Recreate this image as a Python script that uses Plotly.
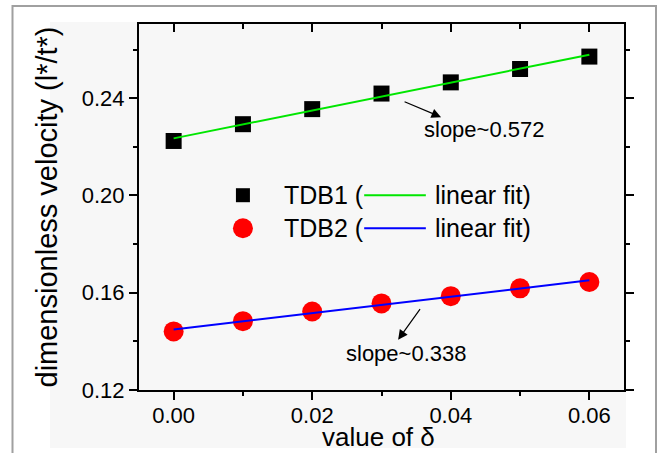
import numpy as np
import plotly.graph_objects as go

# ---- data ----
delta = [0.00, 0.01, 0.02, 0.03, 0.04, 0.05, 0.06]
tdb1 = [0.2224, 0.2293, 0.2355, 0.2419, 0.2465, 0.2520, 0.2571]
tdb2 = [0.1441, 0.1483, 0.1523, 0.1556, 0.1586, 0.1618, 0.1644]
x_ticks = [0.00, 0.02, 0.04, 0.06]
y_ticks = [0.12, 0.16, 0.20, 0.24]
x_title = "value of δ"
y_title = "dimensionless velocity (l*/t*)"
slope1_label = "slope~0.572"
slope2_label = "slope~0.338"

FONT = "Liberation Sans, Arial, sans-serif"

# linear fits from data
p1 = np.polyfit(delta, tdb1, 1)
p2 = np.polyfit(delta, tdb2, 1)
xf = np.array([delta[0], delta[-1]])
fit1 = np.polyval(p1, xf)
fit2 = np.polyval(p2, xf)

W, H = 663, 453
ML, MR, MT, MB = 139, 39, 24, 63
PW, PH = W - ML - MR, H - MT - MB


def px(x):
    return (x - ML) / PW


def py(y):
    return (H - MB - y) / PH


fig = go.Figure()
fig.add_trace(go.Scatter(x=delta, y=tdb1, mode="markers",
                         marker=dict(symbol="square", size=16, color="black"),
                         hoverinfo="skip", showlegend=False))
fig.add_trace(go.Scatter(x=xf, y=fit1, mode="lines",
                         line=dict(color="#00e600", width=2),
                         hoverinfo="skip", showlegend=False))
fig.add_trace(go.Scatter(x=delta, y=tdb2, mode="markers",
                         marker=dict(symbol="circle", size=20, color="#ff0000"),
                         hoverinfo="skip", showlegend=False))
fig.add_trace(go.Scatter(x=xf, y=fit2, mode="lines",
                         line=dict(color="#0000ff", width=2),
                         hoverinfo="skip", showlegend=False))
# dummy trace for top axis
fig.add_trace(go.Scatter(x=[delta[0]], y=[tdb1[0]], xaxis="x2", mode="markers",
                         marker=dict(opacity=0), hoverinfo="skip", showlegend=False))

xr = [-0.005, 0.065]
yr = [0.12, 0.2705]

axis_common = dict(showgrid=False, zeroline=False, showline=True,
                   linecolor="black", linewidth=2, tickcolor="black",
                   tickwidth=2, ticklen=8,
                   tickfont=dict(family=FONT, size=22, color="black"))

fig.update_layout(
    width=W, height=H,
    margin=dict(l=ML, r=MR, t=MT, b=MB, autoexpand=False),
    paper_bgcolor="white",
    plot_bgcolor="#f7f7f7",
    showlegend=False,
    xaxis=dict(range=xr, tickvals=x_ticks, ticktext=[f"{v:.2f}" for v in x_ticks],
               ticks="outside", mirror=False, ticklabelstandoff=-3,
               minor=dict(dtick=0.01, tick0=0, ticks="outside", ticklen=4,
                          tickwidth=2, tickcolor="black"),
               **axis_common),
    xaxis2=dict(range=xr, overlaying="x", side="top", anchor="y", matches="x",
                tickvals=x_ticks, ticks="inside", showticklabels=False,
                minor=dict(dtick=0.01, tick0=0, ticks="inside", ticklen=5,
                           tickwidth=2, tickcolor="black"),
                **axis_common),
    yaxis=dict(range=yr, tickvals=y_ticks, ticktext=[f"{v:.2f}" for v in y_ticks],
               ticks="outside", mirror="ticks",
               minor=dict(dtick=0.02, tick0=0.12, ticks="outside", ticklen=4,
                          tickwidth=2, tickcolor="black"),
               title=dict(text=y_title,
                          font=dict(family=FONT, size=29, color="black"), standoff=16),
               **axis_common),
)

shapes = []
# outer frame and light panel
shapes.append(dict(type="rect", xref="paper", yref="paper", layer="below",
                   x0=px(50), x1=px(626), y0=py(448), y1=py(22),
                   fillcolor="#f7f7f7", line=dict(width=0)))
shapes.append(dict(type="rect", xref="paper", yref="paper", layer="below",
                   x0=px(12.5), x1=px(656), y0=py(470), y1=py(6),
                   fillcolor="rgba(0,0,0,0)", line=dict(color="#a0a0a0", width=2)))

# custom legend
leg_x = 0.0100
row1, row2 = 0.2001, 0.1865
shapes.append(dict(type="rect", xref="x", yref="y", xsizemode="pixel", ysizemode="pixel",
                   xanchor=leg_x, yanchor=row1, x0=-7, x1=7, y0=-7, y1=7,
                   fillcolor="black", line=dict(width=0)))
shapes.append(dict(type="circle", xref="x", yref="y", xsizemode="pixel", ysizemode="pixel",
                   xanchor=leg_x, yanchor=row2, x0=-10, x1=10, y0=-10, y1=10,
                   fillcolor="#ff0000", line=dict(width=0)))
shapes.append(dict(type="line", xref="x", yref="y", x0=0.0275, x1=0.0364, y0=row1, y1=row1,
                   line=dict(color="#00e600", width=2)))
shapes.append(dict(type="line", xref="x", yref="y", x0=0.0275, x1=0.0364, y0=row2, y1=row2,
                   line=dict(color="#0000ff", width=2)))
fig.update_layout(shapes=shapes)

ann_font = dict(family=FONT, size=25, color="black")
anns = [
    dict(xref="paper", yref="paper", x=px(378), y=py(453), text=x_title,
         xanchor="center", yanchor="bottom", showarrow=False, yshift=0, borderpad=0,
         font=dict(family=FONT, size=26, color="black")),
    dict(x=0.0156, y=row1, text="TDB1 (", xanchor="left", yanchor="middle", showarrow=False, font=ann_font),
    dict(x=0.0374, y=row1, text="linear fit)", xanchor="left", yanchor="middle", showarrow=False, font=ann_font),
    dict(x=0.0156, y=row2, text="TDB2 (", xanchor="left", yanchor="middle", showarrow=False, font=ann_font),
    dict(x=0.0374, y=row2, text="linear fit)", xanchor="left", yanchor="middle", showarrow=False, font=ann_font),
    dict(x=0.04483, y=0.2272, text=slope1_label, showarrow=False,
         font=dict(family=FONT, size=22, color="black")),
    dict(x=0.0336, y=0.1351, text=slope2_label, showarrow=False,
         font=dict(family=FONT, size=22, color="black")),
    dict(x=0.0386, y=0.2322, text="", showarrow=True, ax=-38, ay=-16,
         arrowhead=2, arrowsize=1.6, arrowwidth=1.2, arrowcolor="black"),
    dict(x=0.0324, y=0.1407, text="", showarrow=True, ax=23, ay=-32,
         arrowhead=2, arrowsize=1.6, arrowwidth=1.2, arrowcolor="black"),
]
fig.update_layout(annotations=anns)

fig.write_html("out.html")
